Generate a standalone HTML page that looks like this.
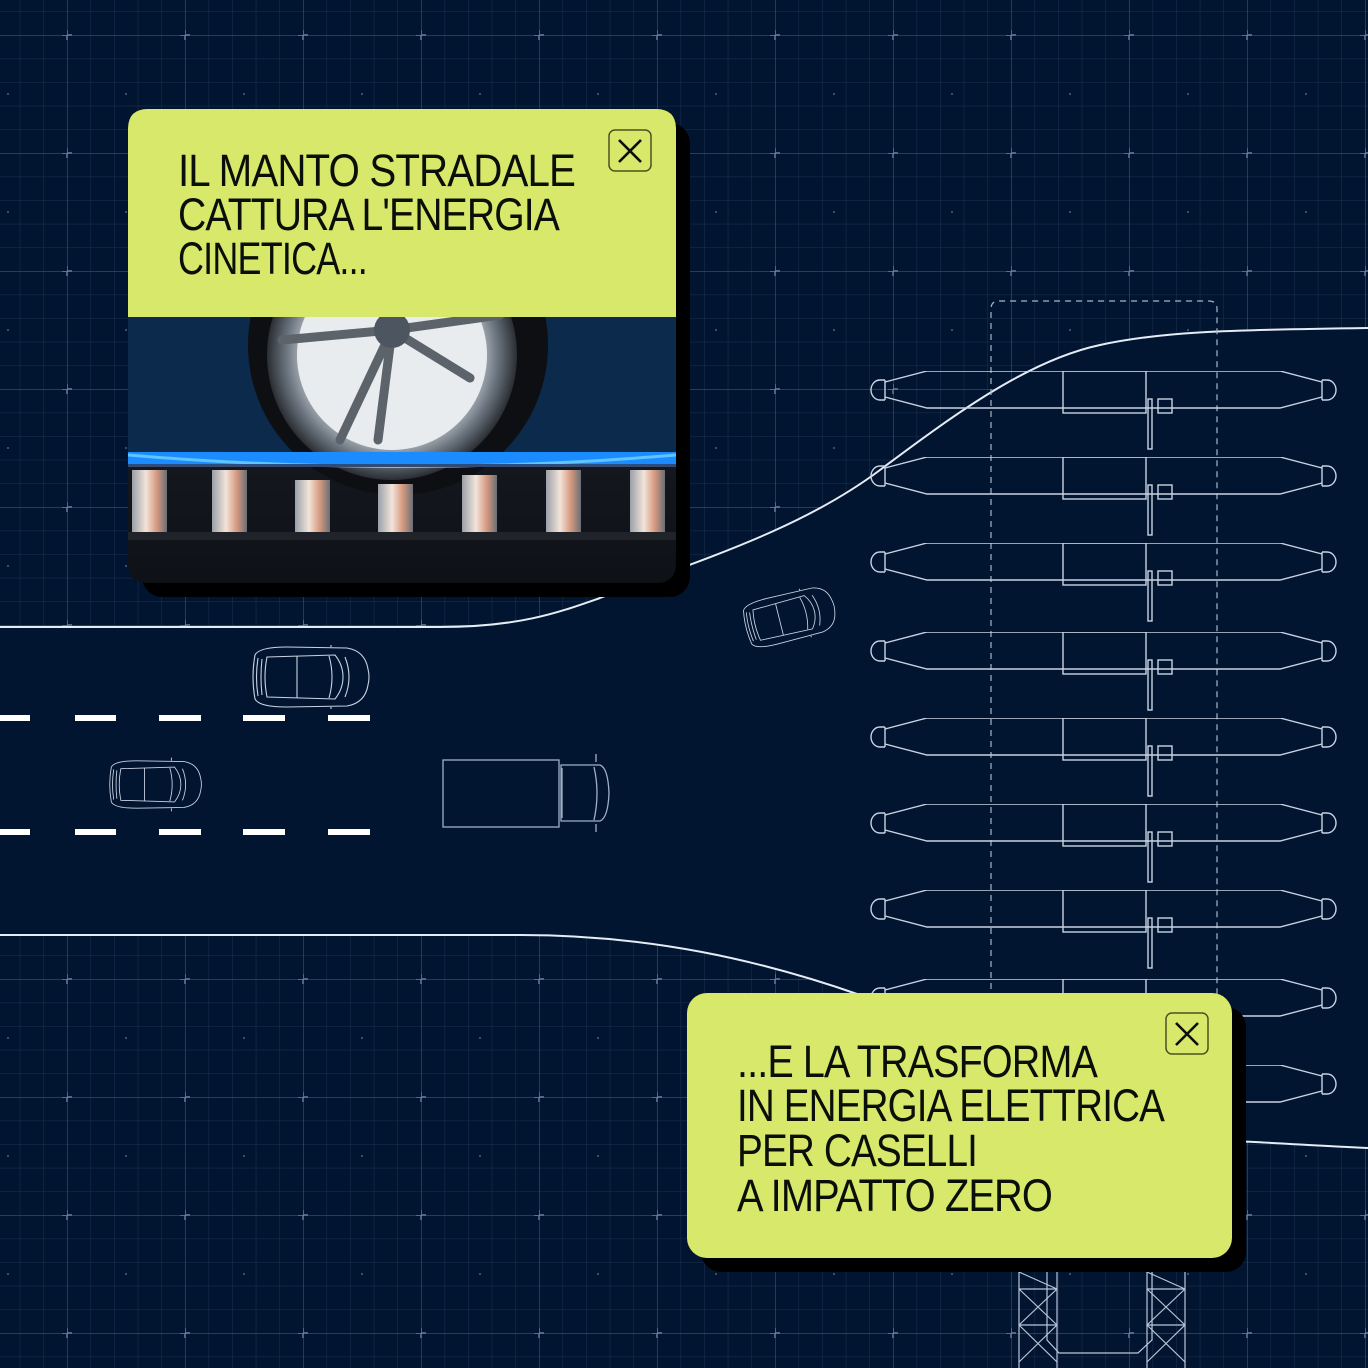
<!DOCTYPE html>
<html><head><meta charset="utf-8"><style>
html,body{margin:0;padding:0;background:#021530;}
svg{display:block}
.t{font-family:"Liberation Sans",sans-serif;font-size:45px;fill:#0b0f0a;letter-spacing:-1px}
</style></head><body>
<svg width="1368" height="1368" viewBox="0 0 1368 1368" xmlns="http://www.w3.org/2000/svg">
<defs>
<pattern id="minor" x="67" y="35" width="23.6" height="23.6" patternUnits="userSpaceOnUse">
<path d="M0 0V23.6M0 0H23.6" stroke="#1c3150" stroke-width="1" fill="none"/>
</pattern>
<pattern id="major" x="67" y="35" width="118" height="118" patternUnits="userSpaceOnUse">
<path d="M0 0V118M0 0H118" stroke="#3a5274" stroke-width="1.2" fill="none"/>
<path d="M-5 0H5M0 -5V5M113 0H123M118 -5V5M-5 118H5M0 113V123" stroke="#6b82a3" stroke-width="1.4"/>
<circle cx="59" cy="59" r="1" fill="#4a6284"/>
</pattern>
<symbol id="booth" viewBox="0 0 480 90" width="480" height="90">
<g fill="none" stroke="#c9d3e2" stroke-width="1.4">
<path d="M18 11 L60 0 L413 0 L455 11 M18 26 L60 37 L413 37 L455 26"/>
<path d="M18 9 V29 M13 9 H18 M13 29 H18 M13 9 A9 10 0 0 0 13 29"/>
<path d="M455 9 V29 M460 9 H455 M460 29 H455 M460 9 A9 10 0 0 1 460 29"/>
<rect x="196" y="0" width="83" height="42"/>
<rect x="281" y="28" width="4" height="50"/>
<rect x="291" y="28" width="14" height="14"/>
</g>
</symbol>
<symbol id="car" viewBox="0 0 124 64" width="124" height="64">
<g fill="none" stroke="#c9d3e2" stroke-width="1.1">
<path d="M8 10 Q4 32 8 54 Q12 62 40 62 L100 61 Q118 58 121 40 Q123 32 121 24 Q118 6 100 3 L40 2 Q12 2 8 10Z"/>
<path d="M11 13 Q8 32 11 51 M15 14 Q13 32 15 50"/>
<path d="M20 12 L88 10 Q96 20 96 32 Q96 44 88 54 L20 52 Q16 32 20 12Z"/>
<path d="M50 11 V53 M82 11 Q88 32 82 53 M98 12 Q106 32 98 52"/>
<path d="M84 2 V-2 M84 62 V66"/>
</g>
</symbol>
<linearGradient id="photo" x1="0" y1="0" x2="0" y2="1">
<stop offset="0" stop-color="#0b2a4c"/><stop offset="0.5" stop-color="#0a2544"/><stop offset="0.55" stop-color="#14181e"/><stop offset="1" stop-color="#0e1116"/>
</linearGradient>
<radialGradient id="rim" cx="0.5" cy="0.5" r="0.5">
<stop offset="0" stop-color="#d8dde2"/><stop offset="0.7" stop-color="#b5bcc4"/><stop offset="0.85" stop-color="#6a737d"/><stop offset="1" stop-color="#2a2e33"/>
</radialGradient>
<linearGradient id="pist" x1="0" y1="0" x2="1" y2="0">
<stop offset="0" stop-color="#9aa0a8"/><stop offset="0.4" stop-color="#f2e4da"/><stop offset="0.7" stop-color="#d79a80"/><stop offset="1" stop-color="#6b6f75"/>
</linearGradient>
<clipPath id="pclip"><path d="M128 317 H676 V563 Q676 583 656 583 H148 Q128 583 128 563Z"/></clipPath>
</defs>

<rect width="1368" height="1368" fill="#021530"/>
<rect width="1368" height="1368" fill="url(#minor)"/>
<rect width="1368" height="1368" fill="url(#major)"/>

<path d="M0 627 L440 627 C520 627 560 612 600 598 C700 560 800 530 880 470 C960 410 1030 360 1100 345 C1160 332 1220 330 1368 328 L1368 1148 C1300 1146 1260 1143 1232 1140 L850 990 C760 960 650 935 520 935 L0 935Z" fill="#021530"/>
<path d="M0 627 L440 627 C520 627 560 612 600 598 C700 560 800 530 880 470 C960 410 1030 360 1100 345 C1160 332 1220 330 1368 328" fill="none" stroke="#e6ecf4" stroke-width="2"/>
<path d="M0 935 L520 935 C650 935 760 960 860 995" fill="none" stroke="#e6ecf4" stroke-width="2"/>
<path d="M1232 1141 C1280 1143 1320 1146 1368 1148" fill="none" stroke="#e6ecf4" stroke-width="2"/>

<path d="M991 1000 V309 Q991 301 999 301 H1209 Q1217 301 1217 309 V1000" fill="none" stroke="#a9b6c8" stroke-width="1.2" stroke-dasharray="6 5"/>

<use href="#booth" x="867" y="371"/>
<use href="#booth" x="867" y="457"/>
<use href="#booth" x="867" y="543"/>
<use href="#booth" x="867" y="632"/>
<use href="#booth" x="867" y="718"/>
<use href="#booth" x="867" y="804"/>
<use href="#booth" x="867" y="890"/>
<use href="#booth" x="867" y="979"/>
<use href="#booth" x="867" y="1065"/>

<g fill="#ffffff">
<rect x="0" y="715" width="30" height="6"/><rect x="75" y="715" width="41" height="6"/><rect x="159" y="715" width="42" height="6"/><rect x="243" y="715" width="42" height="6"/><rect x="328" y="715" width="42" height="6"/>
<rect x="0" y="829" width="30" height="6"/><rect x="75" y="829" width="41" height="6"/><rect x="159" y="829" width="42" height="6"/><rect x="243" y="829" width="42" height="6"/><rect x="328" y="829" width="42" height="6"/>
</g>

<use href="#car" x="247" y="645"/>
<use href="#car" x="105" y="757" width="98" height="55"/>
<g transform="translate(734 605) rotate(-14)"><use href="#car" x="0" y="0" width="100" height="50"/></g>
<g fill="none" stroke="#9fb0c6" stroke-width="1.3">
<rect x="443" y="760" width="116" height="67"/>
<path d="M561 765 H600 Q608 768 609 793 Q608 818 600 821 H561Z"/>
<path d="M562 768 V818 M594 767 Q600 793 594 820"/>
<path d="M596 762 V754 M596 824 V832"/>
</g>

<g fill="none" stroke="#b9c6d8" stroke-width="1.2">
<path d="M1019 1272 V1368 M1057 1272 V1368 M1147 1272 V1368 M1185 1272 V1368"/>
<path d="M1019 1289 H1057 M1019 1325 H1057 M1019 1289 L1057 1325 M1057 1289 L1019 1325 M1019 1272 L1057 1289 M1019 1325 L1057 1362 M1057 1325 L1019 1362"/>
<path d="M1147 1289 H1185 M1147 1325 H1185 M1147 1289 L1185 1325 M1185 1289 L1147 1325 M1147 1272 L1185 1289 M1147 1325 L1185 1362 M1185 1325 L1147 1362"/>
<path d="M1047 1272 V1340 L1059 1353 H1138 L1152 1340 V1272"/>
</g>

<rect x="142" y="123" width="548" height="474" rx="20" fill="#000"/>
<path d="M128 129 Q128 109 148 109 H656 Q676 109 676 129 V317 H128Z" fill="#d7e86a"/>
<g clip-path="url(#pclip)">
<rect x="128" y="317" width="548" height="266" fill="url(#photo)"/>
<rect x="128" y="317" width="548" height="140" fill="#0b2a4c"/>
<circle cx="398" cy="345" r="150" fill="#0d0f12"/>
<circle cx="392" cy="355" r="125" fill="url(#rim)"/>
<circle cx="392" cy="355" r="95" fill="#e9ecef"/>
<g stroke="#5d636b" stroke-width="9" stroke-linecap="round">
<path d="M392 330 L282 340 M392 330 L470 378 M392 330 L340 440 M392 330 L378 440 M392 330 L500 315"/>
</g>
<circle cx="392" cy="330" r="18" fill="#4d5560"/>
<rect x="128" y="452" width="548" height="12" fill="#1a8cff"/>
<path d="M128 455 Q400 478 676 455" stroke="#5fc4ff" stroke-width="3" fill="none"/>
<rect x="128" y="464" width="548" height="3" fill="#2e4b7a"/>
<g fill="url(#pist)">
<rect x="132" y="470" width="35" height="62"/><rect x="212" y="470" width="35" height="62"/><rect x="295" y="480" width="35" height="52"/><rect x="378" y="484" width="35" height="48"/><rect x="462" y="475" width="35" height="57"/><rect x="546" y="470" width="35" height="62"/><rect x="630" y="470" width="35" height="62"/>
</g>
<rect x="128" y="532" width="548" height="8" fill="#20242a"/>
</g>
<rect x="609" y="130" width="42" height="41" rx="6" fill="none" stroke="#4a5220" stroke-width="1.5"/>
<path d="M619 140 L641 162 M641 140 L619 162" stroke="#0b0f0a" stroke-width="2.6"/>
<text class="t" x="178" y="186" textLength="397" lengthAdjust="spacingAndGlyphs">IL MANTO STRADALE</text>
<text class="t" x="178" y="230" textLength="381" lengthAdjust="spacingAndGlyphs">CATTURA L'ENERGIA</text>
<text class="t" x="178" y="274" textLength="189" lengthAdjust="spacingAndGlyphs">CINETICA...</text>

<rect x="701" y="1007" width="545" height="265" rx="20" fill="#000"/>
<rect x="687" y="993" width="545" height="265" rx="20" fill="#d7e86a"/>
<rect x="1166" y="1013" width="42" height="41" rx="6" fill="none" stroke="#4a5220" stroke-width="1.5"/>
<path d="M1176 1023 L1198 1045 M1198 1023 L1176 1045" stroke="#0b0f0a" stroke-width="2.6"/>
<text class="t" x="737" y="1077" textLength="360" lengthAdjust="spacingAndGlyphs">...E LA TRASFORMA</text>
<text class="t" x="737" y="1121" textLength="427" lengthAdjust="spacingAndGlyphs">IN ENERGIA ELETTRICA</text>
<text class="t" x="737" y="1166" textLength="240" lengthAdjust="spacingAndGlyphs">PER CASELLI</text>
<text class="t" x="737" y="1211" textLength="315" lengthAdjust="spacingAndGlyphs">A IMPATTO ZERO</text>
</svg>
</body></html>
